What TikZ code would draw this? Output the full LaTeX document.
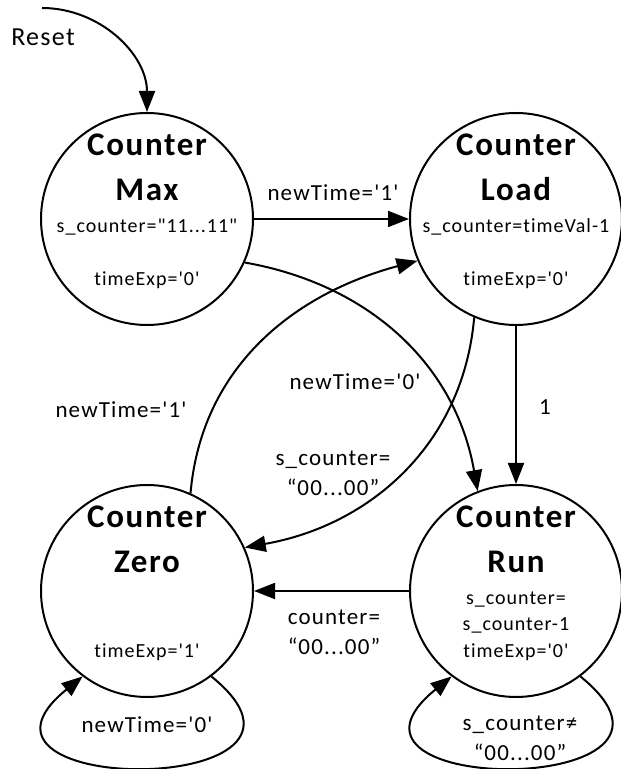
\documentclass[tikz,border=0pt]{standalone}
\usepackage{fontspec}
\setmainfont{Carlito}[LetterSpace=5, Ligatures={TeXOff,CommonOff}]
\usetikzlibrary{arrows.meta}

\begin{document}
\begin{tikzpicture}[x=1pt, y=1pt, line width=2pt,
    state/.style={draw, circle, minimum size=212pt, inner sep=0pt},
    title/.style={anchor=base, inner sep=0pt, font=\bfseries\fontsize{33}{38}\selectfont},
    info/.style={anchor=base, inner sep=0pt, font=\fontsize{20}{24}\selectfont},
    cond/.style={align=center, inner sep=0pt, font=\fontsize{23}{30}\selectfont},
    arr/.style={-{Triangle[length=21pt,width=16pt]}}]
    \useasboundingbox (0,0) rectangle (621,769);

    % states
    \node[state] (max)  at (147,550) {};
    \node[state] (load) at (516,550) {};
    \node[state] (zero) at (147,178) {};
    \node[state] (run)  at (516,178) {};

    \foreach \s/\n in {max/Max, load/Load, zero/Zero, run/Run} {
        \node[title] (\s-a) at ([yshift=63pt]\s.center) {Counter};
        \node[title] (\s-b) at ([yshift=18pt]\s.center) {\n};
    }
    \node[info] (max-c)  at ([yshift=-14pt]max.center)  {s\_counter="11...11"};
    \node[info] (max-d)  at ([yshift=-67pt]max.center)  {timeExp='0'};
    \node[info] (load-c) at ([yshift=-14pt]load.center) {s\_counter=timeVal-1};
    \node[info] (load-d) at ([yshift=-67pt]load.center) {timeExp='0'};
    \node[info] (zero-d) at ([yshift=-67pt]zero.center) {timeExp='1'};
    \node[info] (run-c)  at ([yshift=-14pt]run.center)  {s\_counter=};
    \node[info] (run-e)  at ([yshift=-40pt]run.center)  {s\_counter-1};
    \node[info] (run-d)  at ([yshift=-67pt]run.center)  {timeExp='0'};

    % reset
    \coordinate (rst) at (42,761);
    \node[cond, font=\fontsize{26}{30}\selectfont] (reset) at (43,732) {Reset};
    \draw[arr] (rst) to[out=0, in=90] (max.north);

    % transitions
    \draw[arr] (max.east) -- (load.west);
    \draw[arr] (max.-24) to[out=-10, in=100] (run.111);
    \draw[arr] (zero.66) to[out=85, in=195] (load.203);
    \draw[arr] (load.247) to[out=265, in=10] (zero.24);
    \draw[arr] (load.south) -- (run.north);
    \draw[arr] (run.west) -- (zero.east);
    \draw[arr] (zero.-53) to[out=-39, in=-141, distance=193pt] (zero.233);
    \draw[arr] (run.-53) to[out=-39, in=-141, distance=193pt] (run.233);

    % conditions
    \node[cond] (c1) at (333,576) {newTime='1'};
    \node[cond] (c2) at (355,387) {newTime='0'};
    \node[cond] (c3) at (333,296) {s\_counter=\\“00...00”};
    \node[cond] (c4) at (121,359) {newTime='1'};
    \node[cond] (c5) at (545,362) {1};
    \node[cond] (c6) at (334,137) {counter=\\“00...00”};
    \node[cond] (c7) at (147,44)  {newTime='0'};
    \node[cond] (c8) at (520,31)  {s\_counter≠\\“00...00”};
\end{tikzpicture}
\end{document}
